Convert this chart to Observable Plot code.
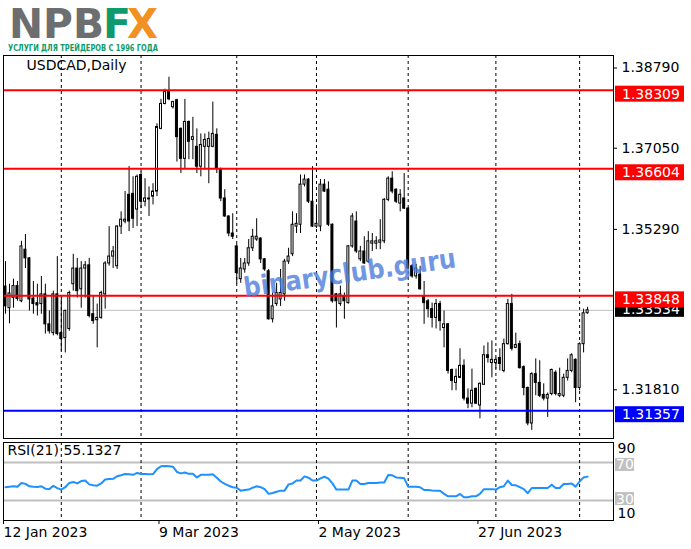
<!DOCTYPE html>
<html>
<head>
<meta charset="utf-8">
<script src="https://cdn.jsdelivr.net/npm/d3@7"></script>
<script src="https://cdn.jsdelivr.net/npm/@observablehq/plot@0.6"></script>
<style>
  body { margin: 0; background: #fff; }
  #wrap { position: relative; width: 691px; height: 549px; overflow: hidden; font-family: "DejaVu Sans", sans-serif; }
  #wrap > svg, #wrap > div { position: absolute; left: 0; }
</style>
</head>
<body>
<div id="wrap">
  <svg id="logo" width="691" height="54" style="top:0">
    <text x="9" y="38" font-family="DejaVu Sans" font-weight="bold" font-size="40" fill="#6d6e70" textLength="95" lengthAdjust="spacingAndGlyphs">NPB</text>
    <text x="103" y="38" font-family="DejaVu Sans" font-weight="bold" font-size="40" fill="#0e9a6c" textLength="28" lengthAdjust="spacingAndGlyphs">F</text>
    <text x="127" y="38" font-family="DejaVu Sans" font-weight="bold" font-size="40" fill="#f39022" textLength="31" lengthAdjust="spacingAndGlyphs">X</text>
    <text x="8" y="51" font-family="DejaVu Sans" font-weight="bold" font-size="9" fill="#0e9a6c" textLength="150" lengthAdjust="spacingAndGlyphs">УСЛУГИ ДЛЯ ТРЕЙДЕРОВ С 1996 ГОДА</text>
  </svg>
  <div id="main" style="top:54px"></div>
  <div id="rsi" style="top:440px"></div>
  <svg id="mark" width="691" height="549" style="top:0;pointer-events:none">
    <text x="245" y="297" transform="rotate(-8 245 297)" font-family="DejaVu Sans" font-weight="bold" font-size="27" fill="#4a7bdc" fill-opacity="0.8" textLength="214" lengthAdjust="spacingAndGlyphs">binaryclub.guru</text>
  </svg>
</div>
<script>
const symbol = "USDCAD,Daily";

// daily candles, 12 Jan 2023 .. 2 Aug 2023
const openP = [
  1.3405, 1.3358, 1.3380, 1.3406, 1.3373, 1.3485, 1.3466, 1.3379, 1.3369, 1.3367,
  1.3388, 1.3323, 1.3304, 1.3388, 1.3304, 1.3293, 1.3313, 1.3410, 1.3444, 1.3399,
  1.3444, 1.3451, 1.3345, 1.3332, 1.3337, 1.3388, 1.3455, 1.3470, 1.3449, 1.3535,
  1.3546, 1.3604, 1.3606, 1.3572, 1.3647, 1.3589, 1.3596, 1.3600, 1.3611, 1.3747,
  1.3801, 1.3827, 1.3794, 1.3809, 1.3747, 1.3682, 1.3762, 1.3723, 1.3708, 1.3665,
  1.3708, 1.3708, 1.3708, 1.3734, 1.3660, 1.3596, 1.3557, 1.3520, 1.3492, 1.3421,
  1.3442, 1.3455, 1.3488, 1.3507, 1.3509, 1.3464, 1.3438, 1.3334, 1.3367, 1.3377,
  1.3388, 1.3459, 1.3475, 1.3535, 1.3539, 1.3626, 1.3637, 1.3589, 1.3535, 1.3535,
  1.3626, 1.3615, 1.3539, 1.3388, 1.3367, 1.3384, 1.3369, 1.3492, 1.3546, 1.3464,
  1.3481, 1.3459, 1.3498, 1.3498, 1.3500, 1.3503, 1.3593, 1.3639, 1.3615, 1.3585,
  1.3596, 1.3574, 1.3449, 1.3427, 1.3431, 1.3384, 1.3373, 1.3356, 1.3337, 1.3367,
  1.3315, 1.3323, 1.3224, 1.3196, 1.3207, 1.3233, 1.3162, 1.3151, 1.3183, 1.3147,
  1.3192, 1.3256, 1.3239, 1.3239, 1.3250, 1.3222, 1.3280, 1.3367, 1.3272, 1.3280,
  1.3230, 1.3185, 1.3108, 1.3215, 1.3196, 1.3170, 1.3162, 1.3172, 1.3218, 1.3168,
  1.3168, 1.3207, 1.3222, 1.3246, 1.3185, 1.3280, 1.3347
];
const highP = [
  1.3459, 1.3410, 1.3421, 1.3416, 1.3503, 1.3518, 1.3468, 1.3416, 1.3410, 1.3427,
  1.3410, 1.3352, 1.3395, 1.3470, 1.3380, 1.3354, 1.3395, 1.3475, 1.3466, 1.3459,
  1.3459, 1.3466, 1.3384, 1.3367, 1.3395, 1.3459, 1.3535, 1.3492, 1.3537, 1.3567,
  1.3611, 1.3665, 1.3643, 1.3647, 1.3654, 1.3639, 1.3621, 1.3628, 1.3758, 1.3811,
  1.3833, 1.3859, 1.3807, 1.3811, 1.3749, 1.3811, 1.3764, 1.3772, 1.3747, 1.3736,
  1.3736, 1.3740, 1.3805, 1.3747, 1.3662, 1.3615, 1.3558, 1.3563, 1.3496, 1.3466,
  1.3466, 1.3507, 1.3529, 1.3552, 1.3511, 1.3466, 1.3442, 1.3391, 1.3412, 1.3442,
  1.3464, 1.3488, 1.3567, 1.3563, 1.3647, 1.3647, 1.3639, 1.3665, 1.3582, 1.3637,
  1.3637, 1.3632, 1.3541, 1.3390, 1.3406, 1.3391, 1.3494, 1.3563, 1.3567, 1.3492,
  1.3513, 1.3524, 1.3520, 1.3513, 1.3550, 1.3596, 1.3643, 1.3654, 1.3617, 1.3615,
  1.3650, 1.3576, 1.3453, 1.3453, 1.3449, 1.3416, 1.3377, 1.3369, 1.3377, 1.3373,
  1.3352, 1.3325, 1.3226, 1.3226, 1.3270, 1.3246, 1.3183, 1.3226, 1.3185, 1.3196,
  1.3276, 1.3283, 1.3287, 1.3250, 1.3270, 1.3291, 1.3377, 1.3388, 1.3304, 1.3287,
  1.3233, 1.3187, 1.3218, 1.3248, 1.3244, 1.3194, 1.3174, 1.3226, 1.3222, 1.3228,
  1.3215, 1.3248, 1.3259, 1.3248, 1.3283, 1.3356, 1.3360
];
const lowP = [
  1.3345, 1.3324, 1.3358, 1.3373, 1.3370, 1.3444, 1.3352, 1.3345, 1.3341, 1.3345,
  1.3302, 1.3302, 1.3298, 1.3298, 1.3265, 1.3261, 1.3308, 1.3395, 1.3380, 1.3358,
  1.3380, 1.3337, 1.3323, 1.3272, 1.3334, 1.3356, 1.3449, 1.3444, 1.3442, 1.3518,
  1.3541, 1.3524, 1.3531, 1.3535, 1.3574, 1.3578, 1.3557, 1.3582, 1.3600, 1.3745,
  1.3799, 1.3808, 1.3790, 1.3675, 1.3650, 1.3660, 1.3680, 1.3680, 1.3650, 1.3643,
  1.3658, 1.3628, 1.3706, 1.3650, 1.3589, 1.3555, 1.3513, 1.3507, 1.3410, 1.3412,
  1.3434, 1.3449, 1.3481, 1.3503, 1.3455, 1.3438, 1.3332, 1.3326, 1.3362, 1.3362,
  1.3373, 1.3453, 1.3470, 1.3520, 1.3520, 1.3621, 1.3585, 1.3533, 1.3531, 1.3524,
  1.3609, 1.3535, 1.3369, 1.3315, 1.3362, 1.3334, 1.3367, 1.3488, 1.3477, 1.3459,
  1.3453, 1.3455, 1.3481, 1.3485, 1.3485, 1.3498, 1.3589, 1.3606, 1.3585, 1.3567,
  1.3572, 1.3442, 1.3423, 1.3421, 1.3397, 1.3323, 1.3337, 1.3315, 1.3313, 1.3308,
  1.3272, 1.3215, 1.3179, 1.3179, 1.3205, 1.3157, 1.3140, 1.3142, 1.3149, 1.3118,
  1.3190, 1.3239, 1.3207, 1.3226, 1.3222, 1.3218, 1.3278, 1.3265, 1.3270, 1.3226,
  1.3168, 1.3103, 1.3093, 1.3168, 1.3164, 1.3157, 1.3121, 1.3168, 1.3168, 1.3164,
  1.3164, 1.3200, 1.3218, 1.3153, 1.3179, 1.3261, 1.3345
];
const closeP = [
  1.3362, 1.3390, 1.3406, 1.3378, 1.3492, 1.3466, 1.3377, 1.3367, 1.3364, 1.3388,
  1.3323, 1.3308, 1.3388, 1.3302, 1.3291, 1.3352, 1.3391, 1.3444, 1.3395, 1.3444,
  1.3451, 1.3341, 1.3330, 1.3337, 1.3391, 1.3455, 1.3470, 1.3481, 1.3535, 1.3550,
  1.3550, 1.3546, 1.3552, 1.3643, 1.3589, 1.3596, 1.3594, 1.3611, 1.3751, 1.3801,
  1.3827, 1.3811, 1.3805, 1.3729, 1.3682, 1.3762, 1.3719, 1.3729, 1.3665, 1.3712,
  1.3723, 1.3725, 1.3736, 1.3660, 1.3596, 1.3557, 1.3520, 1.3513, 1.3434, 1.3444,
  1.3455, 1.3488, 1.3513, 1.3513, 1.3464, 1.3442, 1.3334, 1.3362, 1.3391, 1.3391,
  1.3459, 1.3470, 1.3539, 1.3541, 1.3626, 1.3637, 1.3589, 1.3535, 1.3541, 1.3626,
  1.3611, 1.3539, 1.3373, 1.3373, 1.3388, 1.3373, 1.3492, 1.3557, 1.3481, 1.3481,
  1.3455, 1.3503, 1.3503, 1.3503, 1.3505, 1.3593, 1.3639, 1.3611, 1.3589, 1.3604,
  1.3574, 1.3444, 1.3427, 1.3444, 1.3399, 1.3369, 1.3356, 1.3337, 1.3367, 1.3330,
  1.3323, 1.3222, 1.3200, 1.3209, 1.3233, 1.3162, 1.3151, 1.3179, 1.3151, 1.3194,
  1.3256, 1.3250, 1.3246, 1.3246, 1.3237, 1.3280, 1.3367, 1.3270, 1.3278, 1.3228,
  1.3185, 1.3108, 1.3215, 1.3196, 1.3168, 1.3162, 1.3170, 1.3224, 1.3172, 1.3172,
  1.3207, 1.3222, 1.3256, 1.3185, 1.3280, 1.3347, 1.33534
];
const rsi = [
  44, 44.5, 45, 44.5, 48.5, 47.5, 45, 44.5, 44.3, 45,
  42.5, 42, 45.5, 43, 41.5, 44, 48.5, 49.5, 48, 50.5,
  51, 47, 46, 45.6, 48, 52, 52.6, 52.8, 55.5, 56.5,
  57.8, 57.5, 57, 59, 57.8, 57.8, 57.6, 57.8, 63, 66,
  66.3, 66, 65.5, 60, 58.5, 59.5, 58, 58.2, 54.3, 57,
  57, 57.2, 57.5, 54, 50, 47.5, 45.6, 44, 43.5, 40.4,
  41, 41.5, 43.5, 45, 44, 42, 37, 38, 39.3, 40.4,
  40.4, 47, 48, 51, 51, 55.4, 54, 51, 51, 53.3,
  55, 53, 48, 41.5, 41.5, 41.5, 41.5, 51, 51, 47.4,
  47.4, 48.4, 48.4, 48.4, 49, 49, 56.8, 56.5, 54.3, 54,
  53.3, 44.6, 44.6, 44.6, 44, 41.1, 41, 40.5, 40.4, 40.4,
  37, 34.5, 34.5, 34.5, 37, 33.5, 33.5, 34.5, 34.5, 37,
  42, 42, 42, 41.5, 44, 45, 51, 46.3, 46, 44,
  42, 37.7, 43.2, 43.2, 43.2, 43.2, 43.2, 46.7, 43.2, 43.2,
  47.4, 47.4, 48, 44.6, 50, 54.3, 55.13
];
const rsiLabel = "RSI(21) 55.1327";

const resistance = [1.38309, 1.36604, 1.33848];
const support = [1.31357];
const bid = 1.33534;
const priceTicks = [1.3879, 1.3705, 1.3529, 1.3181];
const monthStarts = [14, 34, 58, 78, 101, 123, 144];
const dateTicks = [0, 39, 79, 119];
const dateLabels = ["12 Jan 2023", "9 Mar 2023", "2 May 2023", "27 Jun 2023"];
const rsiLevels = [70, 30];

const bars = closeP.map((c, i) => ({i, o: openP[i], h: highP[i], l: lowP[i], c, up: c >= openP[i]}));
const slots = d3.range(bars.length + 6);
const xScale = {type: "band", domain: slots, padding: 0, axis: null};
const common = {width: 691, marginLeft: 3, marginRight: 78,
  style: {fontFamily: "DejaVu Sans", fontSize: "14px", color: "black", background: "white", overflow: "visible"}};
const dashed = {stroke: "black", strokeDasharray: "3,3", strokeWidth: 1};

// price tags in the right margin, placed through the y scale
function tags(list) {
  return (index, scales, values, dims) => {
    const g = d3.create("svg:g");
    const x0 = dims.width - dims.marginRight + 2;
    for (const t of list) {
      const top = scales.y(t.v) + t.shift;
      g.append("rect").attr("x", x0).attr("y", top).attr("width", t.w).attr("height", t.hgt).attr("fill", t.bg);
      g.append("text").attr("x", x0 + t.pad).attr("y", top + t.hgt / 2).attr("dy", "0.36em")
        .attr("text-anchor", "start").attr("fill", t.fg).attr("font-size", 14).text(t.label);
    }
    return g.node();
  };
}

const priceTags = [
  {v: bid, bg: "black", shift: -9},
  ...resistance.map(v => ({v, bg: "red", shift: -4})),
  ...support.map(v => ({v, bg: "blue", shift: -4}))
].map(t => ({...t, fg: "white", w: 69, hgt: 16, pad: 7, label: t.v.toFixed(5)}));

const main = Plot.plot({
  ...common,
  height: 385, marginTop: 1, marginBottom: 1,
  x: xScale,
  y: {domain: [1.30754, 1.39061], axis: null},
  marks: [
    Plot.ruleX(monthStarts, {x: d => d, ...dashed}),
    Plot.ruleY([bid], {stroke: "#c0c0c0"}),
    Plot.ruleX(bars, {x: "i", y1: "l", y2: "h", stroke: "black"}),
    Plot.barY(bars, {x: "i", y1: "o", y2: "c", fill: d => d.up ? "white" : "black",
      stroke: "black", strokeWidth: 1, insetLeft: 1, insetRight: 1}),
    Plot.ruleY(resistance, {stroke: "red", strokeWidth: 2}),
    Plot.ruleY(support, {stroke: "blue", strokeWidth: 2}),
    Plot.frame({stroke: "black"}),
    Plot.text([symbol], {text: d => d, frameAnchor: "top-left", dx: 23, dy: 5,
      textAnchor: "start", lineAnchor: "top", fill: "black"}),
    Plot.axisY(priceTicks, {anchor: "right", tickFormat: d => d.toFixed(5), tickSize: 3, tickPadding: 5}),
    tags(priceTags)
  ]
});
document.querySelector("#main").append(main);

const rsiTags = [
  {v: 70, shift: -4, label: "70"},
  {v: 30, shift: -8, label: "30"}
].map(t => ({...t, bg: "#c0c0c0", fg: "white", w: 19, hgt: 13, pad: 1}));

const osc = Plot.plot({
  ...common,
  height: 109, marginTop: 2, marginBottom: 29,
  x: xScale,
  y: {domain: [9.1, 90.9], axis: null},
  marks: [
    Plot.ruleY(rsiLevels, {stroke: "#c0c0c0", strokeWidth: 2}),
    Plot.ruleX(monthStarts, {x: d => d, ...dashed}),
    Plot.lineY(rsi, {x: (d, i) => i, y: d => d, stroke: "#1e90ff", strokeWidth: 2}),
    Plot.frame({stroke: "black"}),
    Plot.text([rsiLabel], {text: d => d, frameAnchor: "top-left", dx: 4, dy: 3,
      textAnchor: "start", lineAnchor: "top", fill: "black"}),
    tags(rsiTags),
    Plot.text([90], {y: d => d, text: d => String(d), frameAnchor: "right", dx: 4,
      textAnchor: "start", lineAnchor: "top", fill: "black"}),
    Plot.text([10], {y: d => d, text: d => String(d), frameAnchor: "right", dx: 4,
      textAnchor: "start", lineAnchor: "bottom", dy: -2, fill: "black"}),
    Plot.axisX(dateTicks, {anchor: "bottom", tickFormat: d => dateLabels[dateTicks.indexOf(d)],
      tickSize: 4, tickPadding: 3, textAnchor: "start", dx: -2})
  ]
});
document.querySelector("#rsi").append(osc);
</script>
</body>
</html>
